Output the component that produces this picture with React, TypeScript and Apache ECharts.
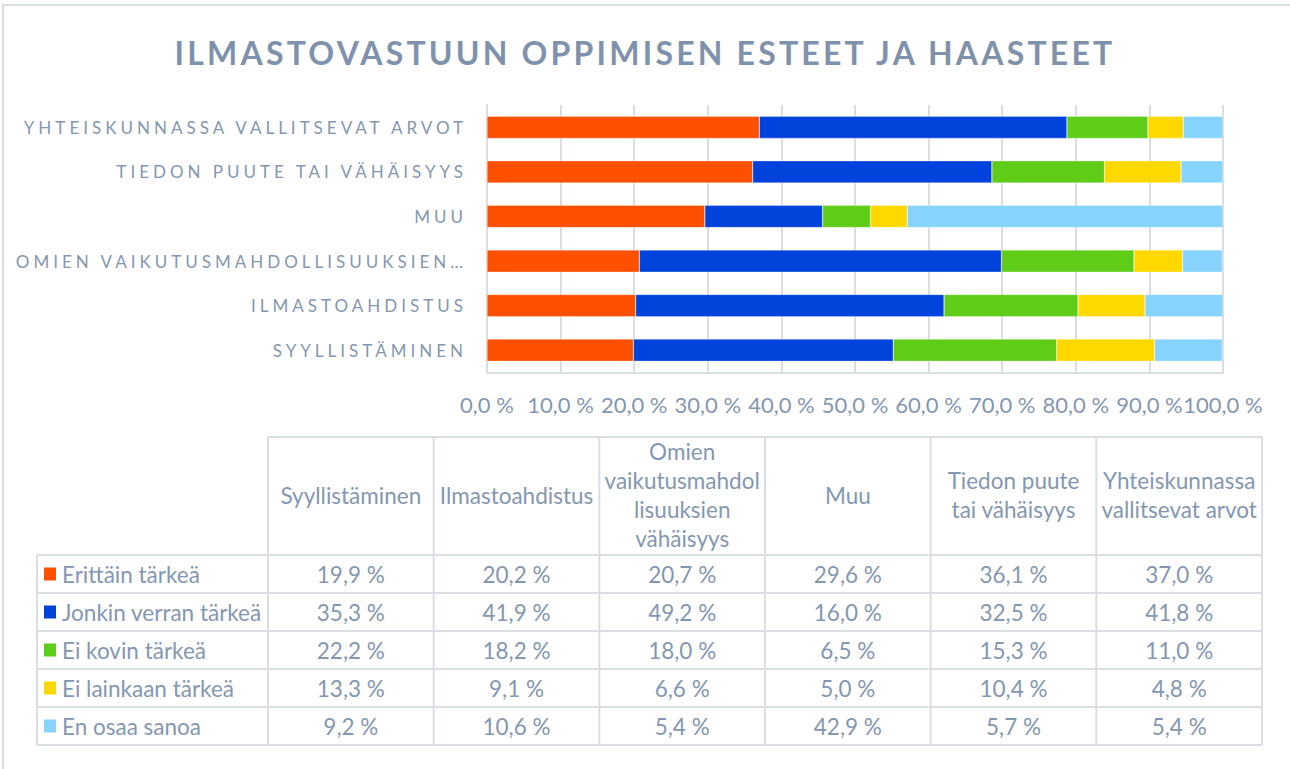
import React, { useEffect, useRef } from 'react';
import * as echarts from 'echarts';

const categories = [
  'Syyllistäminen',
  'Ilmastoahdistus',
  'Omien vaikutusmahdollisuuksien vähäisyys',
  'Muu',
  'Tiedon puute tai vähäisyys',
  'Yhteiskunnassa vallitsevat arvot',
];
const headerLines = [
  ['Syyllistäminen'],
  ['Ilmastoahdistus'],
  ['Omien', 'vaikutusmahdol', 'lisuuksien', 'vähäisyys'],
  ['Muu'],
  ['Tiedon puute', 'tai vähäisyys'],
  ['Yhteiskunnassa', 'vallitsevat arvot'],
];
const seriesNames = ['Erittäin tärkeä', 'Jonkin verran tärkeä', 'Ei kovin tärkeä', 'Ei lainkaan tärkeä', 'En osaa sanoa'];
const erittainTarkea = [19.9, 20.2, 20.7, 29.6, 36.1, 37.0];
const jonkinVerran = [35.3, 41.9, 49.2, 16.0, 32.5, 41.8];
const eiKovin = [22.2, 18.2, 18.0, 6.5, 15.3, 11.0];
const eiLainkaan = [13.3, 9.1, 6.6, 5.0, 10.4, 4.8];
const enOsaa = [9.2, 10.6, 5.4, 42.9, 5.7, 5.4];
const seriesData = [erittainTarkea, jonkinVerran, eiKovin, eiLainkaan, enOsaa];
const colors = ['#FF5000', '#0043DC', '#5FCC17', '#FFD800', '#86D4FE'];
const titleText = 'ILMASTOVASTUUN OPPIMISEN ESTEET JA HAASTEET';

const TEXT = '#8497B0';
const TITLE = '#7F92AC';
const LINE = '#D9DEE5';
const FONT = 'Lato';
const TFS = 22.5;

const fmt = (v: number) => v.toFixed(1).replace('.', ',') + ' %';

export default function App() {
  const ref = useRef<HTMLDivElement>(null);
  useEffect(() => {
    const chart = echarts.init(ref.current!, undefined, { renderer: 'svg' });

    const tLeft = 37;
    const c0 = 268;
    const c6 = 1262;
    const colW = (c6 - c0) / 6;
    const hTop = 437;
    const hBot = 555;
    const rowH = 38;
    const tBot = hBot + rowH * 5;
    const g: any[] = [];
    g.push({ type: 'rect', shape: { x: 3, y: 5, width: 1400, height: 900 }, style: { fill: 'none', stroke: LINE, lineWidth: 2 }, silent: true });
    g.push({ type: 'line', shape: { x1: c0, y1: hTop, x2: c6, y2: hTop }, style: { stroke: LINE, lineWidth: 2 } });
    for (let r = 0; r <= 5; r++) {
      const y = hBot + r * rowH;
      g.push({ type: 'line', shape: { x1: tLeft, y1: y, x2: c6, y2: y }, style: { stroke: LINE, lineWidth: 2 } });
    }
    g.push({ type: 'line', shape: { x1: tLeft, y1: hBot, x2: tLeft, y2: tBot }, style: { stroke: LINE, lineWidth: 2 } });
    for (let c = 0; c <= 6; c++) {
      const x = c0 + c * colW;
      g.push({ type: 'line', shape: { x1: x, y1: hTop, x2: x, y2: tBot }, style: { stroke: LINE, lineWidth: 2 } });
    }
    const lh = 29;
    headerLines.forEach((lines, c) => {
      const cx = c0 + (c + 0.5) * colW;
      const cy = (hTop + hBot) / 2 - 1;
      lines.forEach((t, i) => {
        g.push({
          type: 'text',
          x: cx,
          y: cy + (i - (lines.length - 1) / 2) * lh,
          style: { text: t, fill: TEXT, font: `${TFS}px ${FONT}`, align: 'center', verticalAlign: 'middle' },
        });
      });
    });
    seriesNames.forEach((name, r) => {
      const cy = hBot + (r + 0.5) * rowH;
      g.push({ type: 'rect', shape: { x: 44, y: cy - 6.5, width: 12, height: 13 }, style: { fill: colors[r] } });
      g.push({ type: 'text', x: 62, y: cy, style: { text: name, fill: TEXT, font: `${TFS}px ${FONT}`, align: 'left', verticalAlign: 'middle' } });
      seriesData[r].forEach((v, c) => {
        g.push({
          type: 'text',
          x: c0 + (c + 0.5) * colW,
          y: cy,
          style: { text: fmt(v), fill: TEXT, font: `${TFS}px ${FONT}`, align: 'center', verticalAlign: 'middle' },
        });
      });
    });

    chart.setOption({
      animation: false,
      backgroundColor: '#fff',
      title: {
        text: titleText,
        left: 'center',
        top: 31,
        textStyle: { color: TITLE, fontSize: 32, fontWeight: 'bold', fontFamily: `${FONT}, spacedT` },
      },
      grid: { left: 487, right: 67, top: 105, bottom: 396.5, containLabel: false },
      xAxis: {
        type: 'value',
        min: 0,
        max: 100,
        interval: 10,
        axisLine: { show: true, lineStyle: { color: LINE, width: 2 } },
        axisTick: { show: false },
        splitLine: { show: true, lineStyle: { color: LINE, width: 2 } },
        axisLabel: { color: TEXT, fontSize: 22, fontFamily: FONT, margin: 21, formatter: (v: number) => fmt(v) },
      },
      yAxis: {
        type: 'category',
        data: categories,
        axisLine: { show: true, lineStyle: { color: LINE, width: 2 } },
        axisTick: { show: false },
        axisLabel: {
          color: TEXT,
          fontSize: 17,
          fontFamily: `${FONT}, spacedY`,
          margin: 20,
          formatter: (v: string) => {
            const u = v.toUpperCase();
            return u.length > 32 ? u.slice(0, 30) + '…' : u;
          },
        },
      },
      series: seriesNames.map((n, i) => ({
        name: n,
        type: 'bar',
        stack: 'total',
        barWidth: '50%',
        data: seriesData[i],
        itemStyle: { color: colors[i], borderColor: 'rgba(255,255,255,0.6)', borderWidth: 0.5 },
      })),
      graphic: g,
    });
    return () => chart.dispose();
  }, []);
  return (
    <>
      <style>{`
        #chartbox text[style*="spacedT"] { letter-spacing: 3.2px; }
        #chartbox text[style*="spacedY"] { letter-spacing: 4px; }
      `}</style>
      <div id="chartbox" ref={ref} style={{ position: 'fixed', left: 0, top: 0, width: 1290, height: 769 }} />
    </>
  );
}
